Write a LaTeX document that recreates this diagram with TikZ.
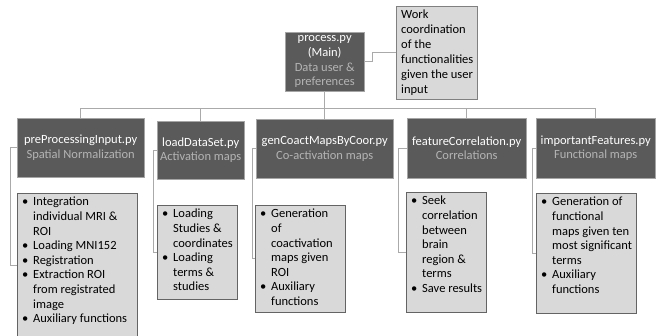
\documentclass[tikz,border=0pt]{standalone}
\usepackage{fontspec}
\setmainfont{Carlito}
\usepackage{tikz}
\definecolor{slate}{RGB}{90, 90, 90}
\definecolor{slateedge}{RGB}{165, 165, 165}
\definecolor{mist}{RGB}{217, 217, 217}
\definecolor{mistedge}{RGB}{100, 100, 100}
\definecolor{wire}{RGB}{170, 170, 170}
\definecolor{dim}{RGB}{180, 180, 180}
\newcommand{\bul}[1]{\par\noindent\hangindent=11pt\hangafter=1\makebox[11pt][l]{\textbullet}{\let\\\newline #1}}
\newcommand{\sheet}[3]{\begin{minipage}[t][#2pt][t]{#1pt}\raggedright
  \rightskip=0pt plus 1fil minus 40pt\leftskip=5pt #3\end{minipage}}
\tikzset{
  module/.style={draw=slateedge, fill=slate, text=white, align=center, anchor=north west,
                 inner sep=0pt, font=\fontsize{12.5}{14.8}\selectfont},
  sheetbox/.style={draw=mistedge, fill=mist, anchor=north west, inner xsep=0pt, inner ysep=4pt,
                 font=\fontsize{12.5}{14.6}\selectfont},
  link/.style={draw=wire, line width=0.9pt}
}
\begin{document}
\begin{tikzpicture}[x=1pt, y=-1pt]
            \useasboundingbox                                              (0, 0) rectangle (670, 336);
            % main module and its note
            \node[module, minimum width=79, minimum height=59]  (main) at (285, 32)
                 {process.py\\(Main)\\\textcolor{dim}{Data user \&}\\\textcolor{dim}{preferences}};
            \node[sheetbox, draw=gray, font=\fontsize{12.5}{15}\selectfont] (note) at (396, 6)
                 {\sheet{81}{85}{Work\\coordination\\of the\\functionalities\\given the user\\input}};
            % modules
            \node[module, minimum width=127, minimum height=59] (m1) at ( 17, 118)
                 {preProcessingInput.py\\\textcolor{dim}{Spatial Normalization}};
            \node[module, minimum width=87,  minimum height=58] (m2) at (157, 121)
                 {loadDataSet.py\\\textcolor{dim}{Activation maps}};
            \node[module, minimum width=137, minimum height=59] (m3) at (256, 119)
                 {genCoactMapsByCoor.py\\\textcolor{dim}{Co-activation maps}};
            \node[module, minimum width=119, minimum height=60] (m4) at (407, 118)
                 {featureCorrelation.py\\\textcolor{dim}{Correlations}};
            \node[module, minimum width=119, minimum height=60] (m5) at (536, 118)
                 {importantFeatures.py\\\textcolor{dim}{Functional maps}};
            % task lists
            \node[sheetbox] (n1) at ( 17, 193) {\sheet{120}{137}{%
                 \bul{Integration\\individual MRI \&\\ROI}\bul{Loading MNI152}\bul{Registration}%
                 \bul{Extraction ROI\\from registrated\\image}\bul{Auxiliary functions}}};
            \node[sheetbox] (n2) at (157, 205) {\sheet{80}{86}{%
                 \bul{Loading\\Studies \&\\coordinates}\bul{Loading\\terms \&\\studies}}};
            \node[sheetbox] (n3) at (255, 205) {\sheet{90}{99}{%
                 \bul{Generation\\of\\coactivation\\maps given\\ROI}\bul{Auxiliary\\functions}}};
            \node[sheetbox] (n4) at (406, 192) {\sheet{80}{112}{%
                 \bul{Seek\\correlation\\between\\brain\\region \&\\terms}\bul{Save results}}};
            \node[sheetbox] (n5) at (536, 193) {\sheet{100}{112}{%
                 \bul{Generation of\\functional\\maps given ten\\most significant\\terms}\bul{Auxiliary\\functions}}};
            % connectors
            \coordinate (bus) at (326, 108);
            \draw[link] (main.east) -- ++(8, 0) |- (note.west);
            \draw[link] (main.south) -- (m3.north);
            \draw[link] (bus) -| (m1.north);
            \draw[link] (bus) -| (m2.north);
            \draw[link] (bus) -| (m4.north);
            \draw[link] (bus) -| (m5.north);
            \draw[link] (m1.west) -- ++(-7, 0) |- (n1.west);
            \draw[link] (m2.west) -- ++(-4, 0) |- (n2.west);
            \draw[link] (m3.west) -- ++(-4, 0) |- (n3.west);
            \draw[link] (m4.west) -- ++(-9, 0) |- (n4.west);
            \draw[link] (m5.west) -- ++(-4, 0) |- (n5.west);
            \end{tikzpicture}
\end{document}
